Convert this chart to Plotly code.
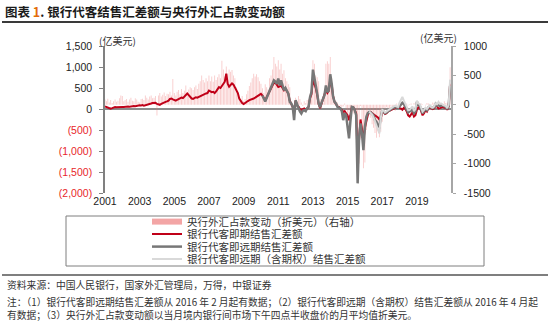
import plotly.graph_objects as go
import pandas as pd

# ---------------- data (亿美元) ----------------
months = pd.date_range("2001-01-01", periods=240, freq="MS")

spot_net = [
    60, 50, 30, 15, 10, 20, 35, 45, 40, 45, 50, 55,          # 2001
    50, 45, 55, 50, 60, 55, 65, 60, 70, 65, 75, 80,          # 2002
    90, 85, 95, 80, 90, 100, 95, 110, 130, 145, 140, 150,    # 2003
    120, 110, 100, 120, 140, 160, 170, 180, 200, 240, 250, 230,  # 2004
    210, 200, 220, 240, 260, 270, 260, 300, 340, 370, 330, 280,  # 2005
    250, 240, 260, 280, 270, 290, 300, 310, 330, 350, 370, 380,  # 2006
    440, 420, 400, 410, 380, 420, 480, 520, 500, 560, 610, 650,  # 2007
    843, 600, 530, 560, 610, 580, 520, 450, 380, 250, 180, 140,  # 2008
    120, 150, 170, 190, 210, 220, 230, 250, 270, 290, 310, 330,  # 2009
    360, 320, 260, 200, 280, 360, 440, 510, 560, 620, 620, 580,  # 2010
    526, 540, 560, 500, 447, 486, 430, 360, 200, 120, 40, -30,   # 2011
    200, 80, 60, 0, -20, -10, 10, -30, 20, 50, 260, 350,         # 2012
    700, 600, 500, 330, 120, 20, 120, 220, 300, 450, 380, 430,   # 2013
    700, 550, 300, 170, 120, 60, 50, 20, -20, -69, -50, -100,    # 2014
    -150, -266, -150, 50, 40, -20, -100, -1216, -560, -250, -480, -741,  # 2015
    -450, -250, -150, -80, -70, -100, -120, -150, -170, -200, -250, -220,  # 2016
    -60, -80, -120, -100, -60, -40, -20, 10, 20, 30, 40, 20,     # 2017
    20, 10, -20, 30, 10, -60, -150, -180, -120, -80, -180, -150, # 2018
    -20, 40, 50, -60, -150, -100, -30, -60, 20, 40, 10, 0,       # 2019
    20, 90, 60, 10, 20, 40, 50, 30, 40, -20, 60, 600,            # 2020
]

# spot + forward, from 2010-02
fwd_start = "2010-02-01"
spot_fwd_net = [
    320, 250, 180, 260, 350, 450, 530, 600, 680, 650, 600,       # 2010 (Feb-Dec)
    724, 560, 684, 520, 447, 500, 430, 367, 169, 130, 60, -266,  # 2011
    209, 100, 50, -60, -109, -40, -27, -50, 20, 50, 288, 400,    # 2012
    938, 750, 605, 367, 130, 40, 150, 250, 328, 560, 400, 447,   # 2013
    827, 600, 300, 170, 130, 50, 40, 20, -50, -266, -100, -147,  # 2014
    -425, -701, -300, 50, 40, -28, -147, -1770, -663, -345, -600, -979,  # 2015
    -425, -188, -100, -69, -80, -107, -150, -266, -300, -400, -425, -188,  # 2016
    -30, -60, -100, -80, -50, -30, -10, 20, 30, 50, 40, 30,      # 2017
    60, 100, 150, 120, 60, -20, -80, -60, -40, -20, -100, -60,   # 2018
    170, 100, 80, -30, -100, -50, 0, -30, 40, 60, 30, 20,        # 2019
    40, 120, 80, 100, 70, 90, 80, 60, 50, 0, 80, 550,            # 2020
]

# spot + forward incl. options, from 2016-04
opt_start = "2016-04-01"
spot_fwd_opt_net = [
    -60, -90, -130, -200, -300, -380, -470, -583, -210,          # 2016 (Apr-Dec)
    -20, -40, -80, -60, -30, 0, 20, 40, 60, 80, 60, 50,          # 2017
    150, 250, 288, 200, 100, 50, -30, -20, 20, 60, -50, 0,       # 2018
    200, 130, 120, 0, -60, -20, 30, 0, 60, 90, 40, 30,           # 2019
    60, 150, 100, 170, 120, 130, 100, 80, 70, 20, 100, 700,      # 2020
]

# PBOC FX holdings change (right axis)
pboc_fx_change = [
    90, 60, 105, 40, 80, 30, 60, 90, 50, 70, 110, 160,           # 2001
    150, 60, 80, 100, 50, 90, 120, 70, 60, 110, 90, 50,          # 2002
    40, 100, 105, 80, 160, 120, 90, 140, 160, 110, 120, 150,     # 2003
    -180, 160, 200, 140, 170, 210, 150, 190, 180, 220, 160, 440, # 2004
    200, 160, 220, 250, 180, 270, 200, 240, 330, 210, 260, 300,  # 2005
    280, 250, 300, 330, 270, 360, 400, 500, 420, 380, 450, 400,  # 2006
    500, 400, 480, 390, 500, 420, 470, 520, 450, 750, 600, 480,  # 2007
    650, 530, 600, 560, 590, 500, 450, 300, 200, 120, 80, 150,   # 2008
    60, 100, 180, 240, 320, 380, 450, 530, 480, 520, 470, 400,   # 2009
    360, 280, 200, 350, 300, 260, 450, 500, 600, 813, 700, 650,  # 2010
    757, 600, 700, 530, 586, 450, 400, 350, 300, 50, -40, -30,   # 2011
    120, 60, 150, 100, 40, -20, 60, 30, 80, 40, 180, 250,        # 2012
    757, 700, 500, 470, 400, 100, 30, 40, 200, 700, 740, 700,    # 2013
    813, 450, 300, 150, 60, 40, 10, -20, -40, -30, 20, -80,      # 2014
    -160, -150, -180, -60, -150, -70, -400, -500, -1000, -20, -480, -1080,  # 2015
    -980, -430, -230, -70, -220, -330, -390, -480, -560, -440, -550, -460,  # 2016
    -290, -50, -80, -40, -60, -70, -30, -40, -20, -100, 20, 0,   # 2017
    30, 10, 20, -10, 0, 20, -10, 10, 20, 0, 30, 10,              # 2018
    0, 20, -10, 20, 10, 0, -10, 30, 20, 0, 10, 40,               # 2019
    30, 0, 20, 10, 40, 20, 10, 60, 30, 20, 50, 640,              # 2020
]

year_ticks = [2001, 2003, 2005, 2007, 2009, 2011, 2013, 2015, 2017, 2019]
left_ticks = [1500, 1000, 500, 0, -500, -1000, -1500, -2000]
right_ticks = [1000, 500, 0, -500, -1000, -1500]

legend_names = [
    "央行外汇占款变动（折美元）（右轴）",
    "银行代客即期结售汇差额",
    "银行代客即远期结售汇差额",
    "银行代客即远期（含期权）结售汇差额",
]

# ---------------- layout helpers ----------------
W, H = 550, 329
L, R, T, B = 105, 99, 46, 136
PW, PH = W - L - R, H - T - B
def px(x): return (x - L) / PW
def py(y): return (H - B - y) / PH

CJK = "Noto Sans CJK SC"
NUM = "Liberation Sans, Arial"

def left_label(v):
    if v < 0:
        return f"<span style='color:#E8262B'>({abs(v):,})</span>"
    return f"{v:,}"

fig = go.Figure()

fig.add_trace(go.Bar(
    x=months, y=pboc_fx_change, yaxis="y",
    marker=dict(color="rgba(238,120,120,0.4)", line=dict(width=0)),
    showlegend=False, name=legend_names[0]))

# legend entry for the bars (drawn as flat pink swatch)
fig.add_trace(go.Scatter(
    x=[None], y=[None], mode="lines", name=legend_names[0],
    line=dict(color="rgba(242,160,160,0.95)", width=6), legend="legend"))

fwd_months = pd.date_range(fwd_start, periods=len(spot_fwd_net), freq="MS")
opt_months = pd.date_range(opt_start, periods=len(spot_fwd_opt_net), freq="MS")

fig.add_trace(go.Scatter(
    x=months, y=spot_net, yaxis="y2", mode="lines", name=legend_names[1],
    line=dict(color="#C00018", width=2), legend="legend2"))
fig.add_trace(go.Scatter(
    x=fwd_months, y=spot_fwd_net, yaxis="y2", mode="lines", name=legend_names[2],
    line=dict(color="#777777", width=2.5), legend="legend3"))
fig.add_trace(go.Scatter(
    x=opt_months, y=spot_fwd_opt_net, yaxis="y2", mode="lines", name=legend_names[3],
    line=dict(color="#D9D9D9", width=2), legend="legend4"))

def leg(yc):
    return dict(x=px(147), y=py(yc), xanchor="left", yanchor="middle",
                bgcolor="rgba(0,0,0,0)", borderwidth=0,
                font=dict(family=CJK, size=10.5, color="#333333"),
                itemwidth=30)

xr = ["2001-01-01", "2020-12-20"]

fig.update_layout(
    width=W, height=H,
    margin=dict(l=L, r=R, t=T, b=B, pad=0),
    paper_bgcolor="white", plot_bgcolor="white",
    bargap=0.35,
    showlegend=True,
    legend=leg(221.6), legend2=leg(234.1), legend3=leg(246.6), legend4=leg(259.1),
    xaxis=dict(
        range=xr, type="date",
        tickvals=[f"{y}-01-01" for y in year_ticks],
        ticktext=[str(y) for y in year_ticks],
        showline=False, ticks="", showgrid=False, zeroline=False,
        tickfont=dict(family=NUM, size=10.5, color="#222222"),
    ),
    xaxis2=dict(
        range=xr, type="date", overlaying="x", anchor="free",
        position=2000 / 3500,
        showline=True, linecolor="#8c8c8c", linewidth=1.5,
        tickvals=[f"{y}-01-01" for y in year_ticks],
        ticks="outside", ticklen=3, tickcolor="#8c8c8c", tickwidth=1,
        showticklabels=False, showgrid=False, zeroline=False,
    ),
    yaxis=dict(
        range=[-1500, 1000], side="right",
        tickvals=right_ticks, ticktext=[str(v) for v in right_ticks],
        showline=True, linecolor="#a6a6a6", linewidth=1.5,
        ticks="outside", ticklen=3, tickcolor="#a6a6a6",
        ticklabelstandoff=6,
        showgrid=False, zeroline=False,
        tickfont=dict(family=NUM, size=10.5, color="#222222"),
    ),
    yaxis2=dict(
        range=[-2000, 1500], side="left", overlaying="y",
        tickvals=left_ticks, ticktext=[left_label(v) for v in left_ticks],
        showline=True, linecolor="#808080", linewidth=1.5,
        ticks="outside", ticklen=4, tickcolor="#808080",
        ticklabelstandoff=5,
        showgrid=False, zeroline=True, zerolinecolor="#8c8c8c", zerolinewidth=1.5,
        tickfont=dict(family=NUM, size=10.5, color="#222222"),
    ),
    shapes=[
        dict(type="line", xref="paper", yref="paper", x0=px(2), x1=px(548),
             y0=py(22), y1=py(22), line=dict(color="#3a3a3a", width=2)),
        dict(type="line", xref="paper", yref="paper", x0=px(2), x1=px(548),
             y0=py(275), y1=py(275), line=dict(color="#555555", width=1.5)),
        dict(type="rect", xref="paper", yref="paper", x0=px(66), x1=px(484),
             y0=py(266), y1=py(216), line=dict(color="#7f7f7f", width=1)),
    ],
)

ann = [
    dict(text="<b>图表 <span style='color:#E36C09'>1</span>. 银行代客结售汇差额与央行外汇占款变动额</b>",
         x=px(3), y=py(12), size=12.5, color="#1a1a1a"),
    dict(text="(亿美元)", x=px(97), y=py(40.5), size=10, color="#333333"),
    dict(text="(亿美元)", x=px(418), y=py(37.5), size=10, color="#333333"),
    dict(text="资料来源：中国人民银行，国家外汇管理局，万得，中银证券",
         x=px(5), y=py(285), size=9.8, color="#333333"),
    dict(text="注：（1）银行代客即远期结售汇差额从 2016 年 2 月起有数据；（2）银行代客即远期（含期权）结售汇差额从 2016 年 4 月起",
         x=px(5), y=py(302), size=9.75, color="#333333"),
    dict(text="有数据；（3）央行外汇占款变动额以当月境内银行间市场下午四点半收盘价的月平均值折美元。",
         x=px(5), y=py(315), size=9.75, color="#333333"),
]
for a in ann:
    fig.add_annotation(text=a["text"], x=a["x"], y=a["y"], xref="paper", yref="paper",
                       xanchor="left", yanchor="middle", showarrow=False,
                       font=dict(family=CJK, size=a["size"], color=a["color"]))

fig.write_html("out.html")
